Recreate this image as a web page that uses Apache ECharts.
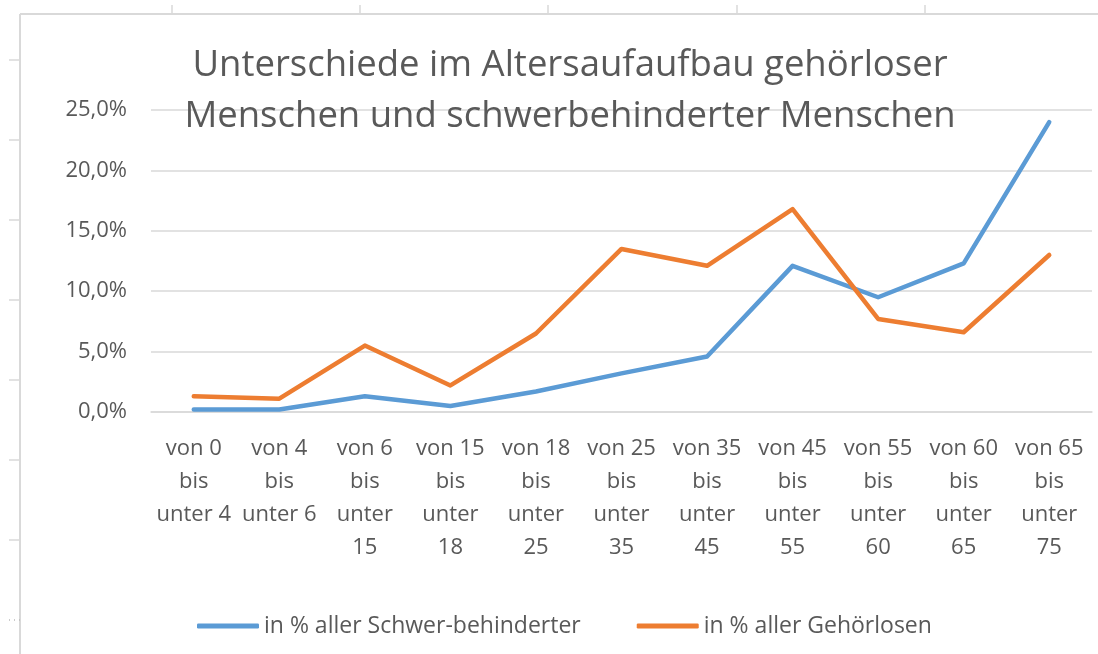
<!DOCTYPE html>
<html>
<head>
<meta charset="utf-8">
<script src="https://cdn.jsdelivr.net/npm/echarts@6/dist/echarts.min.js"></script>
<style>
html,body{margin:0;padding:0;background:#fff;}
#chart{width:1098px;height:654px;}
</style>
</head>
<body>
<div id="chart"></div>
<script>
const titleLines = ['Unterschiede im Altersaufaufbau gehörloser', 'Menschen und schwerbehinderter Menschen'];
const categories = ['von 0 bis unter 4','von 4 bis unter 6','von 6 bis unter 15','von 15 bis unter 18','von 18 bis unter 25','von 25 bis unter 35','von 35 bis unter 45','von 45 bis unter 55','von 55 bis unter 60','von 60 bis unter 65','von 65 bis unter 75'];
const seriesNames = ['in % aller Schwer-behinderter', 'in % aller Gehörlosen'];
const schwerbehinderte = [0.2, 0.2, 1.3, 0.5, 1.7, 3.2, 4.6, 12.1, 9.5, 12.3, 24.0];
const gehoerlose = [1.3, 1.1, 5.5, 2.2, 6.5, 13.5, 12.1, 16.8, 7.7, 6.6, 13.0];
const yMin = 0, yMax = 25, yStep = 5;

const FONT = '"Open Sans", sans-serif';
const GREY = '#595959';
const GRID = '#d9d9d9';

function wrap(label) {
  const words = label.split(' ');
  const lines = [];
  let cur = '';
  words.forEach(w => {
    const t = cur ? cur + ' ' + w : w;
    if (t.length > 7 && cur) { lines.push(cur); cur = w; } else { cur = t; }
  });
  if (cur) lines.push(cur);
  return lines.join('\n');
}

// spreadsheet frame decoration
const deco = [];
deco.push({type:'line', shape:{x1:20,y1:14,x2:1098,y2:14}, style:{stroke:GRID,lineWidth:2}, silent:true});
deco.push({type:'line', shape:{x1:20,y1:14,x2:20,y2:654}, style:{stroke:GRID,lineWidth:2}, silent:true});
[172,360,548,737,925].forEach(x => deco.push({type:'line', shape:{x1:x,y1:5,x2:x,y2:14}, style:{stroke:GRID,lineWidth:1.5}, silent:true}));
[60,140,220,300,380,460,540].forEach(y => deco.push({type:'line', shape:{x1:9,y1:y,x2:20,y2:y}, style:{stroke:GRID,lineWidth:1.5}, silent:true}));
deco.push({type:'line', shape:{x1:9,y1:620,x2:20,y2:620}, style:{stroke:'#bbb',lineWidth:1.5,lineDash:[1,4]}, silent:true});

const chart = echarts.init(document.getElementById('chart'), null, {renderer:'canvas'});
chart.setOption({
  backgroundColor:'#fff',
  animation:false,
  title:{
    text: titleLines.join('\n'),
    left: 565, top: 35, textAlign:'center',
    textStyle:{fontFamily:FONT, fontSize:36.5, fontWeight:'normal', color:GREY, lineHeight:51}
  },
  legend:{
    left:192, top:608,
    icon:'roundRect', itemWidth:62, itemHeight:5, itemGap:56,
    textStyle:{fontFamily:FONT, fontSize:23, color:GREY, lineHeight:26, padding:[0,0,0,0]},
    data: seriesNames
  },
  grid:{left:151, right:6, top:110, bottom:242, containLabel:false},
  xAxis:{
    type:'category', data:categories, boundaryGap:true,
    axisLine:{show:true, lineStyle:{color:GRID, width:1.5}},
    axisTick:{show:false},
    axisLabel:{interval:0, margin:20, fontFamily:FONT, fontSize:22, color:GREY, lineHeight:33, formatter:wrap}
  },
  yAxis:{
    type:'value', min:yMin, max:yMax, interval:yStep,
    axisLine:{show:false}, axisTick:{show:false},
    splitLine:{lineStyle:{color:GRID, width:1.5}},
    axisLabel:{margin:24, fontFamily:FONT, fontSize:22, color:GREY, formatter:v => v.toFixed(1).replace('.',',') + '%'}
  },
  series:[
    {name:seriesNames[0], type:'line', data:schwerbehinderte, symbol:'none', color:'#5B9BD5',
     lineStyle:{width:4.5, color:'#5B9BD5', cap:'round', join:'round'}},
    {name:seriesNames[1], type:'line', data:gehoerlose, symbol:'none', color:'#ED7D31',
     lineStyle:{width:4.5, color:'#ED7D31', cap:'round', join:'round'}}
  ],
  graphic: deco
});
</script>
</body>
</html>
